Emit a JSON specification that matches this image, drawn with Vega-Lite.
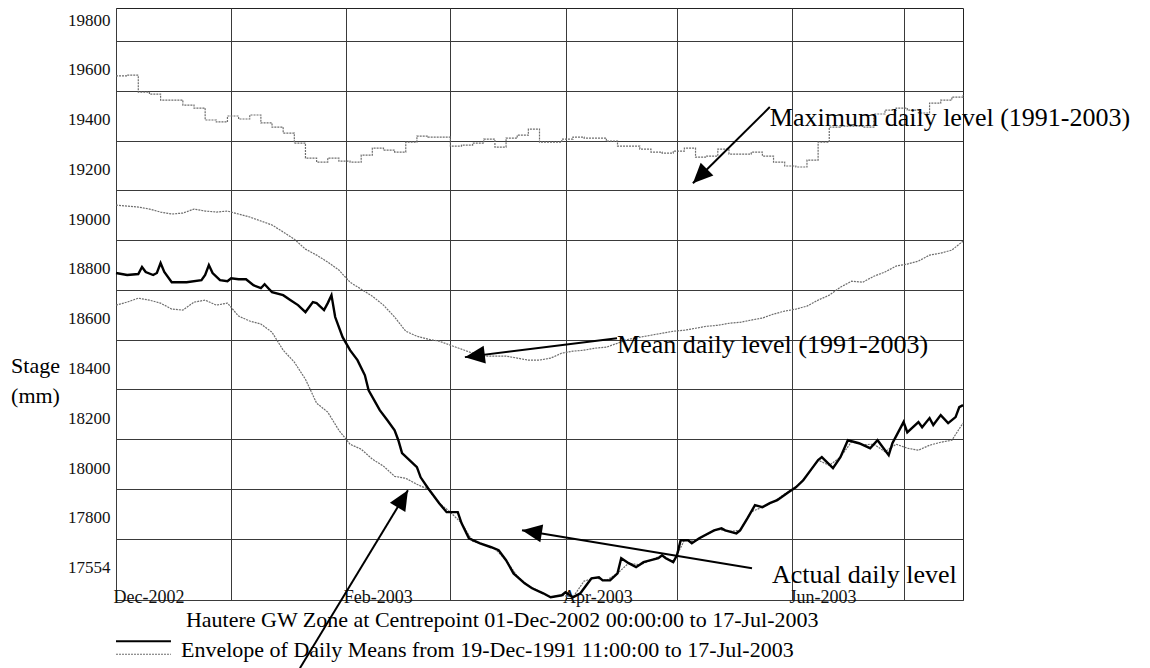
{
  "$schema": "https://vega.github.io/schema/vega-lite/v6.json",
  "width": 847,
  "height": 592,
  "autosize": {"type": "none"},
  "padding": {"left": 116, "top": 8, "right": 187, "bottom": 68},
  "background": "white",
  "config": {"font": "Liberation Serif", "view": {"stroke": "#222", "strokeWidth": 1}},
  "datasets": {
    "env": [
      {"date":"2002-12-01","max":19660,"mean":19141,"min":18739},
      {"date":"2002-12-04","max":19663,"mean":19137,"min":18751},
      {"date":"2002-12-07","max":19595,"mean":19133,"min":18767},
      {"date":"2002-12-10","max":19587,"mean":19125,"min":18759},
      {"date":"2002-12-13","max":19563,"mean":19113,"min":18747},
      {"date":"2002-12-16","max":19563,"mean":19105,"min":18723},
      {"date":"2002-12-19","max":19543,"mean":19109,"min":18719},
      {"date":"2002-12-22","max":19531,"mean":19125,"min":18751},
      {"date":"2002-12-25","max":19483,"mean":19117,"min":18759},
      {"date":"2002-12-28","max":19475,"mean":19113,"min":18739},
      {"date":"2002-12-31","max":19499,"mean":19117,"min":18747},
      {"date":"2003-01-03","max":19487,"mean":19105,"min":18695},
      {"date":"2003-01-06","max":19503,"mean":19093,"min":18675},
      {"date":"2003-01-09","max":19471,"mean":19077,"min":18663},
      {"date":"2003-01-12","max":19454,"mean":19061,"min":18630},
      {"date":"2003-01-15","max":19430,"mean":19033,"min":18558},
      {"date":"2003-01-18","max":19390,"mean":19004,"min":18510},
      {"date":"2003-01-21","max":19330,"mean":18964,"min":18441},
      {"date":"2003-01-24","max":19314,"mean":18940,"min":18345},
      {"date":"2003-01-27","max":19330,"mean":18912,"min":18309},
      {"date":"2003-01-30","max":19318,"mean":18880,"min":18236},
      {"date":"2003-02-02","max":19314,"mean":18831,"min":18180},
      {"date":"2003-02-05","max":19342,"mean":18803,"min":18160},
      {"date":"2003-02-08","max":19370,"mean":18775,"min":18120},
      {"date":"2003-02-11","max":19362,"mean":18739,"min":18092},
      {"date":"2003-02-14","max":19354,"mean":18691,"min":18051},
      {"date":"2003-02-17","max":19394,"mean":18634,"min":18043},
      {"date":"2003-02-20","max":19418,"mean":18614,"min":18019},
      {"date":"2003-02-23","max":19414,"mean":18602,"min":17999},
      {"date":"2003-02-26","max":19414,"mean":18594,"min":17943},
      {"date":"2003-03-01","max":19378,"mean":18578,"min":17907},
      {"date":"2003-03-04","max":19382,"mean":18562,"min":17863},
      {"date":"2003-03-07","max":19390,"mean":18546,"min":17790},
      {"date":"2003-03-10","max":19406,"mean":18534,"min":17778},
      {"date":"2003-03-13","max":19374,"mean":18534,"min":17760},
      {"date":"2003-03-16","max":19410,"mean":18534,"min":17714},
      {"date":"2003-03-19","max":19422,"mean":18526,"min":17650},
      {"date":"2003-03-22","max":19446,"mean":18518,"min":17611},
      {"date":"2003-03-25","max":19394,"mean":18518,"min":17589},
      {"date":"2003-03-28","max":19394,"mean":18526,"min":17565},
      {"date":"2003-03-31","max":19406,"mean":18546,"min":17573},
      {"date":"2003-04-03","max":19414,"mean":18554,"min":17565},
      {"date":"2003-04-06","max":19410,"mean":18558,"min":17630},
      {"date":"2003-04-09","max":19410,"mean":18566,"min":17643},
      {"date":"2003-04-12","max":19398,"mean":18570,"min":17633},
      {"date":"2003-04-15","max":19378,"mean":18586,"min":17661},
      {"date":"2003-04-18","max":19378,"mean":18602,"min":17702},
      {"date":"2003-04-21","max":19366,"mean":18610,"min":17695},
      {"date":"2003-04-24","max":19354,"mean":18618,"min":17714},
      {"date":"2003-04-27","max":19350,"mean":18626,"min":17734},
      {"date":"2003-04-30","max":19358,"mean":18634,"min":17706},
      {"date":"2003-05-03","max":19370,"mean":18638,"min":17794},
      {"date":"2003-05-06","max":19334,"mean":18646,"min":17790},
      {"date":"2003-05-09","max":19338,"mean":18654,"min":17818},
      {"date":"2003-05-12","max":19366,"mean":18658,"min":17838},
      {"date":"2003-05-15","max":19346,"mean":18666,"min":17830},
      {"date":"2003-05-18","max":19346,"mean":18670,"min":17834},
      {"date":"2003-05-21","max":19354,"mean":18679,"min":17909},
      {"date":"2003-05-24","max":19338,"mean":18687,"min":17927},
      {"date":"2003-05-27","max":19314,"mean":18703,"min":17949},
      {"date":"2003-05-30","max":19298,"mean":18715,"min":17980},
      {"date":"2003-06-02","max":19294,"mean":18723,"min":18007},
      {"date":"2003-06-05","max":19322,"mean":18735,"min":18055},
      {"date":"2003-06-08","max":19394,"mean":18759,"min":18116},
      {"date":"2003-06-11","max":19454,"mean":18779,"min":18095},
      {"date":"2003-06-14","max":19458,"mean":18811,"min":18128},
      {"date":"2003-06-17","max":19458,"mean":18835,"min":18190},
      {"date":"2003-06-20","max":19454,"mean":18831,"min":18178},
      {"date":"2003-06-23","max":19507,"mean":18855,"min":18180},
      {"date":"2003-06-26","max":19523,"mean":18872,"min":18150},
      {"date":"2003-06-29","max":19531,"mean":18896,"min":18180},
      {"date":"2003-07-02","max":19523,"mean":18904,"min":18164},
      {"date":"2003-07-05","max":19511,"mean":18916,"min":18156},
      {"date":"2003-07-08","max":19551,"mean":18940,"min":18176},
      {"date":"2003-07-11","max":19563,"mean":18948,"min":18188},
      {"date":"2003-07-14","max":19575,"mean":18960,"min":18196},
      {"date":"2003-07-17","max":19583,"mean":18996,"min":18265}
    ],
    "act": [
      {"date":"2002-12-01","level":18868},{"date":"2002-12-04","level":18860},{"date":"2002-12-07","level":18864},
      {"date":"2002-12-08","level":18892},{"date":"2002-12-09","level":18872},{"date":"2002-12-11","level":18860},
      {"date":"2002-12-12","level":18868},{"date":"2002-12-13","level":18908},{"date":"2002-12-14","level":18872},
      {"date":"2002-12-16","level":18831},{"date":"2002-12-20","level":18831},{"date":"2002-12-24","level":18839},
      {"date":"2002-12-25","level":18860},{"date":"2002-12-26","level":18900},{"date":"2002-12-27","level":18868},
      {"date":"2002-12-29","level":18839},{"date":"2002-12-31","level":18835},{"date":"2003-01-01","level":18847},
      {"date":"2003-01-03","level":18843},{"date":"2003-01-05","level":18843},{"date":"2003-01-07","level":18819},
      {"date":"2003-01-09","level":18807},{"date":"2003-01-10","level":18823},{"date":"2003-01-11","level":18807},
      {"date":"2003-01-12","level":18791},{"date":"2003-01-15","level":18779},{"date":"2003-01-17","level":18759},
      {"date":"2003-01-19","level":18739},{"date":"2003-01-21","level":18711},{"date":"2003-01-23","level":18751},
      {"date":"2003-01-24","level":18747},{"date":"2003-01-26","level":18719},{"date":"2003-01-27","level":18747},
      {"date":"2003-01-28","level":18779},{"date":"2003-01-29","level":18691},{"date":"2003-01-31","level":18610},
      {"date":"2003-02-02","level":18558},{"date":"2003-02-04","level":18518},{"date":"2003-02-06","level":18457},
      {"date":"2003-02-07","level":18397},{"date":"2003-02-10","level":18317},{"date":"2003-02-12","level":18277},
      {"date":"2003-02-14","level":18236},{"date":"2003-02-15","level":18196},{"date":"2003-02-16","level":18144},
      {"date":"2003-02-18","level":18116},{"date":"2003-02-20","level":18088},{"date":"2003-02-21","level":18047},
      {"date":"2003-02-23","level":18003},{"date":"2003-02-26","level":17943},{"date":"2003-02-28","level":17907},
      {"date":"2003-03-03","level":17907},{"date":"2003-03-04","level":17863},{"date":"2003-03-06","level":17802},
      {"date":"2003-03-09","level":17782},{"date":"2003-03-12","level":17766},{"date":"2003-03-14","level":17754},
      {"date":"2003-03-16","level":17714},{"date":"2003-03-18","level":17661},{"date":"2003-03-21","level":17621},
      {"date":"2003-03-23","level":17601},{"date":"2003-03-26","level":17581},{"date":"2003-03-28","level":17565},
      {"date":"2003-03-31","level":17573},{"date":"2003-04-01","level":17585},{"date":"2003-04-03","level":17565},
      {"date":"2003-04-05","level":17581},{"date":"2003-04-07","level":17621},{"date":"2003-04-08","level":17641},
      {"date":"2003-04-10","level":17645},{"date":"2003-04-11","level":17633},{"date":"2003-04-13","level":17633},
      {"date":"2003-04-15","level":17661},{"date":"2003-04-16","level":17722},{"date":"2003-04-18","level":17702},
      {"date":"2003-04-20","level":17686},{"date":"2003-04-22","level":17706},{"date":"2003-04-24","level":17714},
      {"date":"2003-04-26","level":17722},{"date":"2003-04-27","level":17734},{"date":"2003-04-28","level":17722},
      {"date":"2003-04-30","level":17706},{"date":"2003-05-01","level":17734},{"date":"2003-05-02","level":17794},
      {"date":"2003-05-04","level":17794},{"date":"2003-05-05","level":17782},{"date":"2003-05-07","level":17802},
      {"date":"2003-05-11","level":17834},{"date":"2003-05-13","level":17842},{"date":"2003-05-14","level":17834},
      {"date":"2003-05-17","level":17822},{"date":"2003-05-18","level":17834},{"date":"2003-05-20","level":17883},
      {"date":"2003-05-22","level":17935},{"date":"2003-05-24","level":17927},{"date":"2003-05-26","level":17943},
      {"date":"2003-05-28","level":17955},{"date":"2003-05-31","level":17987},{"date":"2003-06-02","level":18007},
      {"date":"2003-06-04","level":18035},{"date":"2003-06-06","level":18076},{"date":"2003-06-08","level":18116},
      {"date":"2003-06-09","level":18128},{"date":"2003-06-12","level":18084},{"date":"2003-06-14","level":18128},
      {"date":"2003-06-16","level":18196},{"date":"2003-06-19","level":18184},{"date":"2003-06-22","level":18164},
      {"date":"2003-06-24","level":18196},{"date":"2003-06-27","level":18136},{"date":"2003-06-28","level":18184},
      {"date":"2003-07-01","level":18269},{"date":"2003-07-02","level":18228},{"date":"2003-07-05","level":18269},
      {"date":"2003-07-06","level":18248},{"date":"2003-07-08","level":18285},{"date":"2003-07-09","level":18257},
      {"date":"2003-07-11","level":18297},{"date":"2003-07-13","level":18265},{"date":"2003-07-15","level":18289},
      {"date":"2003-07-16","level":18329},{"date":"2003-07-17","level":18337}
    ],
    "notes": [
      {"label":"Maximum daily level (1991-2003)","date":"2003-05-26T00:00Z","level":19458},
      {"label":"Mean daily level (1991-2003)","date":"2003-04-14T21:00Z","level":18546},
      {"label":"Actual daily level","date":"2003-05-26T14:00Z","level":17621}
    ],
    "arrows": [
      {"target":"max","date":"2003-05-26T00:00Z","level":19535,"date2":"2003-05-05T07:00Z","level2":19229,"heading":225},
      {"target":"mean","date":"2003-04-14T21:00Z","level":18606,"date2":"2003-03-04T22:00Z","level2":18530,"heading":263},
      {"target":"actual","date":"2003-05-21T05:00Z","level":17682,"date2":"2003-03-20T07:00Z","level2":17834,"heading":279},
      {"target":"min","date":"2003-01-19T12:00Z","level":17280,"date2":"2003-02-17T14:00Z","level2":17995,"heading":31}
    ],
    "keys": [
      {"item":"site","date":"2002-12-01","date2":"2002-12-15T19:00Z","level":17388},
      {"item":"envelope","date":"2002-12-01","date2":"2002-12-15T19:00Z","level":17336}
    ],
    "captions": [
      {"label":"Hautere GW Zone at Centrepoint 01-Dec-2002 00:00:00 to 17-Jul-2003","date":"2002-12-19T20:00Z","level":17445},
      {"label":"Envelope of Daily Means from 19-Dec-1991 11:00:00 to 17-Jul-2003","date":"2002-12-18T12:00Z","level":17324}
    ]
  },
  "layer": [
    {
      "data": {"name": "env"},
      "mark": {"type": "line", "interpolate": "step-after", "color": "#6e6e6e", "strokeWidth": 1.2, "strokeDash": [2, 1]},
      "encoding": {
        "x": {
          "field": "date", "type": "temporal",
          "scale": {"type": "utc", "domain": [1038700800000, 1058400000000]},
          "axis": {
            "title": null,
            "values": [1038700800000, 1041379200000, 1044057600000, 1046476800000, 1049155200000, 1051747200000, 1054425600000, 1057017600000],
            "labelExpr": "utcmonth(datum.value) % 2 == 1 ? utcFormat(datum.value, '%b-%Y') : ''",
            "grid": true, "gridColor": "#3a3a3a", "gridWidth": 1,
            "ticks": false, "tickSize": 0, "domain": false,
            "labelAlign": "left", "labelBaseline": "alphabetic", "labelPadding": 2, "labelOffset": -3,
            "labelFont": "Liberation Serif", "labelFontSize": 18, "labelColor": "#111",
            "labelOverlap": false, "labelFlush": false, "labelBound": false
          }
        },
        "y": {
          "field": "max", "type": "quantitative",
          "scale": {"domain": [17554, 19933], "zero": false, "nice": false},
          "axis": {
            "values": [17554, 17800, 18000, 18200, 18400, 18600, 18800, 19000, 19200, 19400, 19600, 19800],
            "format": "d",
            "grid": true, "gridColor": "#3a3a3a", "gridWidth": 1,
            "ticks": false, "tickSize": 0, "domain": false,
            "labelFont": "Liberation Serif", "labelFontSize": 17, "labelColor": "#111", "labelPadding": 6,
            "labelBaseline": "middle",
            "labelOffset": {"condition": {"test": "datum.value < 17600", "value": -33}, "value": -21},
            "title": ["Stage", "(mm)"], "titleAngle": 0, "titleX": -81, "titleY": 364,
            "titleAlign": "center", "titleBaseline": "alphabetic",
            "titleFont": "Liberation Serif", "titleFontSize": 22, "titleFontWeight": "normal",
            "titleLineHeight": 30, "titleColor": "#000"
          }
        }
      }
    },
    {
      "data": {"name": "env"},
      "mark": {"type": "line", "color": "#6e6e6e", "strokeWidth": 1.2, "strokeDash": [2, 1]},
      "encoding": {
        "x": {"field": "date", "type": "temporal"},
        "y": {"field": "mean", "type": "quantitative"}
      }
    },
    {
      "data": {"name": "env"},
      "mark": {"type": "line", "color": "#6e6e6e", "strokeWidth": 1.2, "strokeDash": [2, 1]},
      "encoding": {
        "x": {"field": "date", "type": "temporal"},
        "y": {"field": "min", "type": "quantitative"}
      }
    },
    {
      "data": {"name": "act"},
      "mark": {"type": "line", "color": "#000", "strokeWidth": 2.4},
      "encoding": {
        "x": {"field": "date", "type": "temporal"},
        "y": {"field": "level", "type": "quantitative"}
      }
    },
    {
      "data": {"name": "arrows"},
      "mark": {"type": "rule", "color": "#000", "strokeWidth": 2},
      "encoding": {
        "x": {"field": "date", "type": "temporal"},
        "y": {"field": "level", "type": "quantitative"},
        "x2": {"field": "date2"},
        "y2": {"field": "level2"}
      }
    },
    {
      "data": {"name": "arrows"},
      "mark": {"type": "point", "shape": "M0,0L-0.45,1L0.45,1Z", "filled": true, "color": "#000", "opacity": 1, "size": 1600, "strokeWidth": 0},
      "encoding": {
        "x": {"field": "date2", "type": "temporal"},
        "y": {"field": "level2", "type": "quantitative"},
        "angle": {"field": "heading", "type": "quantitative", "scale": null}
      }
    },
    {
      "data": {"name": "notes"},
      "mark": {"type": "text", "align": "left", "baseline": "alphabetic", "font": "Liberation Serif", "fontSize": 26, "color": "#000"},
      "encoding": {
        "x": {"field": "date", "type": "temporal"},
        "y": {"field": "level", "type": "quantitative"},
        "text": {"field": "label"}
      }
    },
    {
      "data": {"name": "keys"},
      "transform": [{"filter": "datum.item == 'site'"}],
      "mark": {"type": "rule", "color": "#000", "strokeWidth": 2},
      "encoding": {
        "x": {"field": "date", "type": "temporal"},
        "x2": {"field": "date2"},
        "y": {"field": "level", "type": "quantitative"}
      }
    },
    {
      "data": {"name": "keys"},
      "transform": [{"filter": "datum.item == 'envelope'"}],
      "mark": {"type": "rule", "color": "#6e6e6e", "strokeWidth": 1.2, "strokeDash": [2, 1]},
      "encoding": {
        "x": {"field": "date", "type": "temporal"},
        "x2": {"field": "date2"},
        "y": {"field": "level", "type": "quantitative"}
      }
    },
    {
      "data": {"name": "captions"},
      "mark": {"type": "text", "align": "left", "baseline": "alphabetic", "font": "Liberation Serif", "fontSize": 22, "color": "#000"},
      "encoding": {
        "x": {"field": "date", "type": "temporal"},
        "y": {"field": "level", "type": "quantitative"},
        "text": {"field": "label"}
      }
    }
  ]
}
